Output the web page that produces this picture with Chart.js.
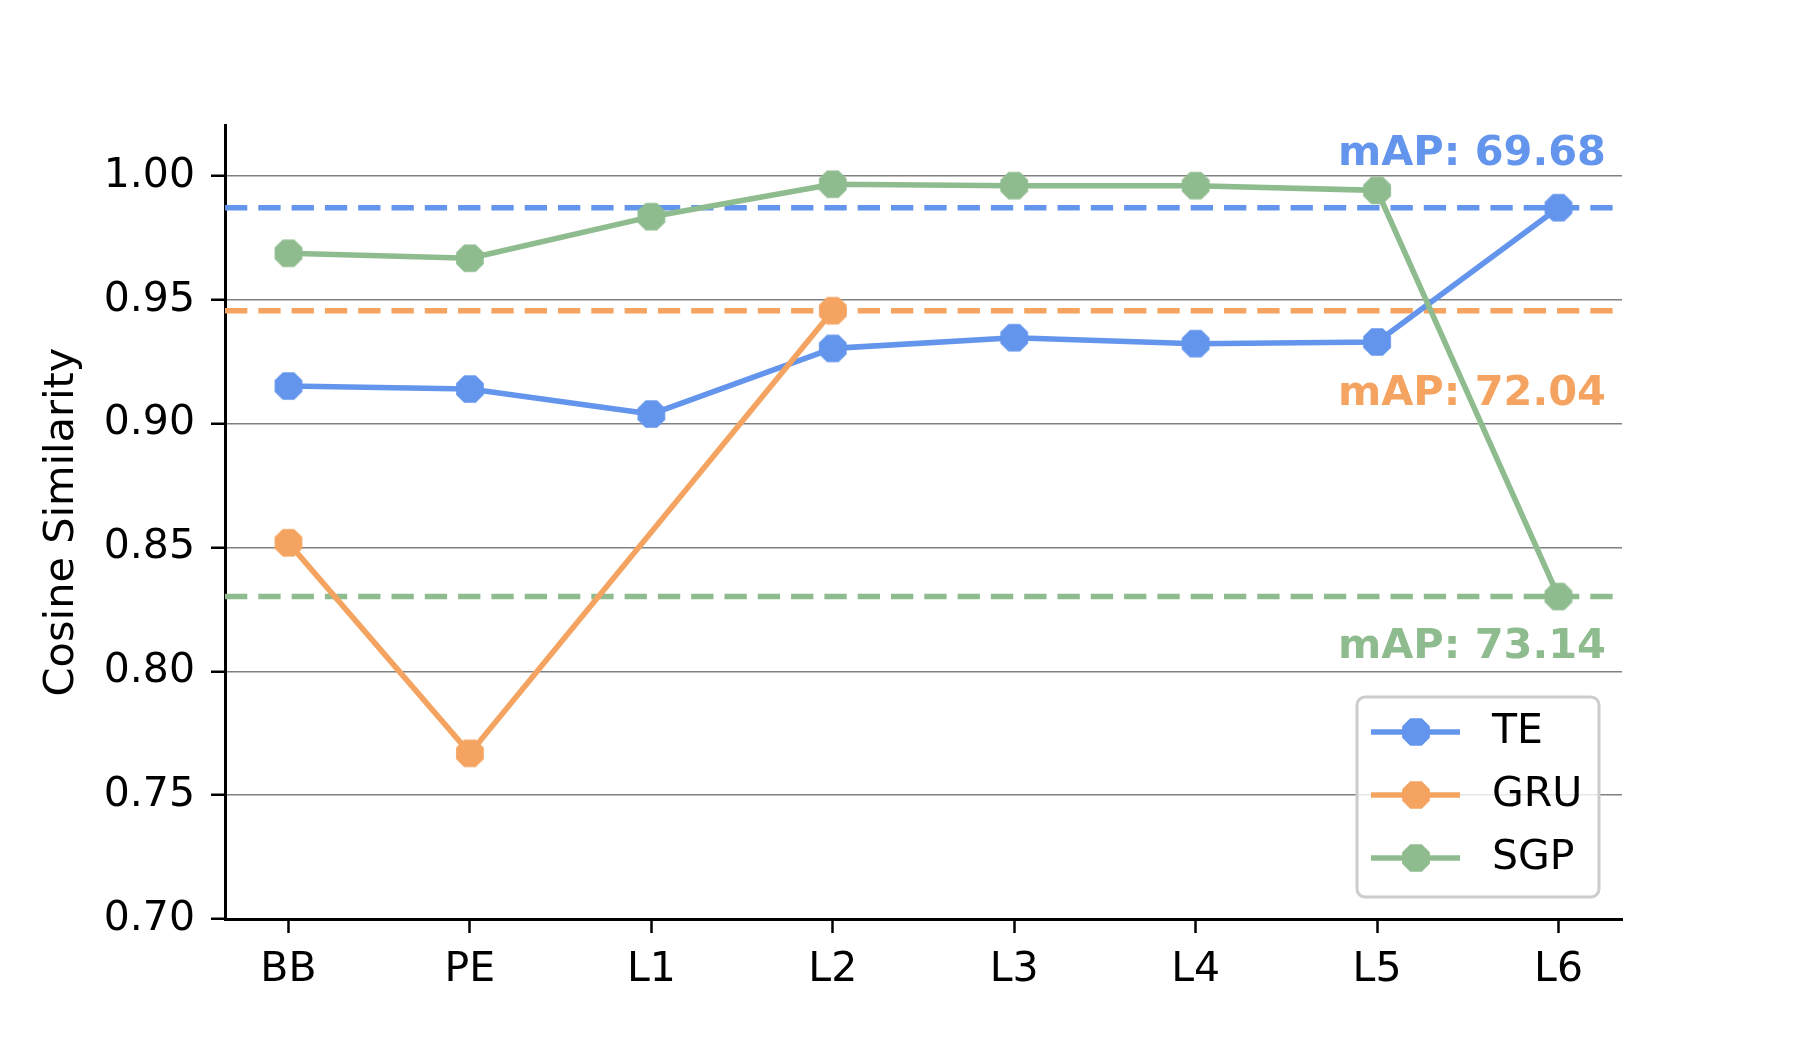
<!DOCTYPE html>
<html>
<head>
<meta charset="utf-8">
<script src="https://cdn.jsdelivr.net/npm/chart.js@4.4.0/dist/chart.umd.min.js"></script>
<style>
  html, body { margin: 0; padding: 0; background: #fff; }
  canvas { display: block; }
</style>
</head>
<body>
<canvas id="chart" width="1800" height="1050"></canvas>
<script>
// data
const layers = ["BB", "PE", "L1", "L2", "L3", "L4", "L5", "L6"];
const teValues = [0.9152, 0.914, 0.9039, 0.9304, 0.9347, 0.9323, 0.933, 0.9872];
const gruValues = [0.8519, 0.7669, null, 0.9456, null, null, null, null];
const sgpValues = [0.9688, 0.9668, 0.9836, 0.9967, 0.9961, 0.9961, 0.9942, 0.8302];
const seriesNames = ["TE", "GRU", "SGP"];
const seriesColors = ["#6495ED", "#F4A460", "#8FBC8F"];
const refValues = [0.9872, 0.9456, 0.8302];
const mapLabels = ["mAP: 69.68", "mAP: 72.04", "mAP: 73.14"];
const mapLabelY = [1.0045, 0.9076, 0.8054];
const yTicks = [0.7, 0.75, 0.8, 0.85, 0.9, 0.95, 1.0];

Chart.defaults.font.family = "'DejaVu Sans', sans-serif";
Chart.defaults.color = "#000";

// octagon marker like matplotlib's "8"
function octagon(color, r) {
  const c = document.createElement("canvas");
  const s = Math.ceil(r * 2) + 2;
  c.width = c.height = s;
  const g = c.getContext("2d");
  g.fillStyle = color;
  g.beginPath();
  for (let k = 0; k < 8; k++) {
    const a = Math.PI / 8 + (k * Math.PI) / 4;
    const x = s / 2 + r * Math.cos(a);
    const y = s / 2 + r * Math.sin(a);
    k ? g.lineTo(x, y) : g.moveTo(x, y);
  }
  g.closePath();
  g.fill();
  return c;
}
const markers = seriesColors.map((c) => octagon(c, 15));

const toPoints = (vals) =>
  vals.map((v, i) => ({ x: i, y: v })).filter((p) => p.y !== null);

// ── dashed reference lines + mAP text + legend
const extras = {
  id: "extras",
  beforeDatasetsDraw(chart) {
    const { ctx, chartArea, scales } = chart;
    ctx.save();
    ctx.lineWidth = 5.6;
    ctx.setLineDash([22.3, 11]);
    ctx.lineCap = "butt";
    refValues.forEach((v, i) => {
      const y = scales.y.getPixelForValue(v);
      ctx.strokeStyle = seriesColors[i];
      ctx.beginPath();
      ctx.moveTo(chartArea.left, y);
      ctx.lineTo(chartArea.right, y);
      ctx.stroke();
    });
    ctx.restore();
  },
  afterDatasetsDraw(chart) {
    const { ctx, chartArea, scales } = chart;
    ctx.save();
    ctx.font = "bold 41.5px 'DejaVu Sans'";
    ctx.textAlign = "right";
    ctx.textBaseline = "alphabetic";
    mapLabels.forEach((t, i) => {
      ctx.fillStyle = seriesColors[i];
      ctx.fillText(t, chartArea.right - 16, scales.y.getPixelForValue(mapLabelY[i]));
    });

    // legend box, lower right
    const w = 242, h = 200;
    const x0 = chartArea.right - 23 - w;
    const y0 = chartArea.bottom - 22 - h;
    ctx.beginPath();
    ctx.roundRect(x0, y0, w, h, 8);
    ctx.fillStyle = "rgba(255,255,255,0.8)";
    ctx.fill();
    ctx.lineWidth = 3;
    ctx.strokeStyle = "#cccccc";
    ctx.stroke();
    ctx.font = "41px 'DejaVu Sans'";
    ctx.textAlign = "left";
    ctx.textBaseline = "middle";
    seriesNames.forEach((name, i) => {
      const y = y0 + 35 + i * 63;
      ctx.strokeStyle = seriesColors[i];
      ctx.lineWidth = 5.6;
      ctx.beginPath();
      ctx.moveTo(x0 + 14, y);
      ctx.lineTo(x0 + 103, y);
      ctx.stroke();
      const m = markers[i];
      ctx.drawImage(m, x0 + 59 - m.width / 2, y - m.height / 2);
      ctx.fillStyle = "#000";
      ctx.fillText(name, x0 + 135, y);
    });
    ctx.restore();
  },
};

new Chart(document.getElementById("chart").getContext("2d"), {
  type: "line",
  data: {
    datasets: [teValues, gruValues, sgpValues].map((vals, i) => ({
      label: seriesNames[i],
      data: toPoints(vals),
      borderColor: seriesColors[i],
      backgroundColor: seriesColors[i],
      borderWidth: 5.6,
      borderJoinStyle: "round",
      pointStyle: markers[i],
      pointRadius: 15,
      tension: 0,
      order: 3 - i,
      clip: false,
    })),
  },
  options: {
    responsive: false,
    animation: false,
    devicePixelRatio: 1,
    layout: { padding: { left: 0, top: 125, right: 178, bottom: 0 } },
    plugins: { legend: { display: false }, tooltip: { enabled: false } },
    scales: {
      x: {
        type: "linear",
        min: -0.35,
        max: 7.35,
        afterBuildTicks: (s) => {
          s.ticks = layers.map((_, i) => ({ value: i }));
        },
        afterFit: (s) => {
          s.height = 131;
        },
        ticks: {
          callback: (v) => layers[v],
          font: { size: 41 },
          color: "#000",
          padding: 13,
          maxRotation: 0,
          autoSkip: false,
        },
        grid: {
          drawOnChartArea: false,
          drawTicks: true,
          tickLength: 14,
          tickColor: "#000",
          tickWidth: 2.5,
        },
        border: { color: "#000", width: 3 },
      },
      y: {
        min: 0.7,
        max: 1.0206,
        afterBuildTicks: (s) => {
          s.ticks = yTicks.map((v) => ({ value: v }));
        },
        afterFit: (s) => {
          s.width = 225;
        },
        ticks: {
          callback: (v) => v.toFixed(2),
          font: { size: 41 },
          color: "#000",
          padding: 16,
        },
        grid: {
          color: "#808080",
          lineWidth: 1.5,
          tickLength: 14,
          tickColor: "#000",
          tickWidth: 2.5,
        },
        border: { color: "#000", width: 3 },
        title: {
          display: true,
          text: "Cosine Similarity",
          font: { size: 41.5 },
          color: "#000",
          padding: { top: 37, bottom: 0 },
        },
      },
    },
  },
  plugins: [extras],
});
</script>
</body>
</html>
